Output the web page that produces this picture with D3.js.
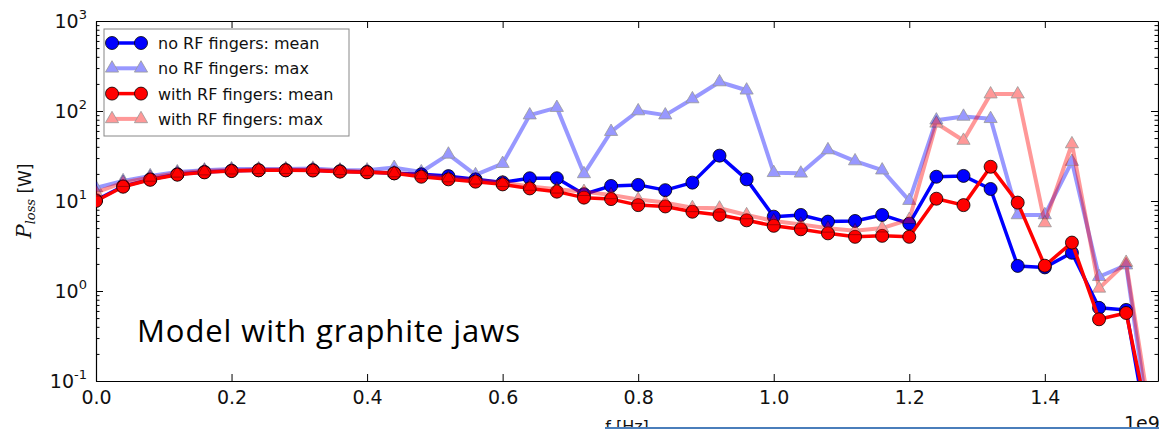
<!DOCTYPE html>
<html>
<head>
<meta charset="utf-8">
<script src="https://cdnjs.cloudflare.com/ajax/libs/d3/7.8.5/d3.min.js"></script>
<style>
  body { margin: 0; background: #fff; }
  svg { display: block; }
  .tick text { font-family: "DejaVu Sans", sans-serif; }
</style>
</head>
<body>
<div id="chart"></div>
<script>
// frequency steps (in units of 1e9 Hz)
const freqs = d3.range(0, 40).map(i => i * 0.04);

const noRfMean = [10.2, 14.6, 17.4, 19.8, 21, 21.7, 22, 22, 22, 21.4,
  21, 20.3, 19.8, 18.9, 17.4, 16.1, 17.9, 17.9, 11.9, 14.7,
  15.1, 13.2, 16.0, 31.9, 17.4, 6.7, 7.0, 5.9, 6.0, 7.0,
  5.6, 18.6, 19.0, 13.6, 1.9, 1.83, 2.66, 0.65, 0.616, 0.012];

const noRfMax = [14, 16.7, 19, 21, 22, 22.7, 22.7, 22.7, 23, 22,
  22, 23.5, 21, 33, 19.5, 26, 90, 109, 20, 59,
  100, 90, 136, 210, 170, 20.6, 20.3, 36.9, 27.8, 22,
  10.1, 79, 87, 82, 7.0, 7.0, 27.4, 1.44, 1.94, 0.016];

const rfMean = [10, 14.4, 17.2, 19.6, 20.8, 21.5, 21.9, 21.9, 21.8, 21.2,
  20.8, 20.3, 18.6, 17.4, 16.4, 15.3, 13.8, 12.7, 10.9, 10.5,
  9.0, 8.7, 7.6, 7.0, 6.1, 5.3, 4.85, 4.37, 4.0, 4.1,
  4.0, 10.6, 9.0, 24, 9.6, 1.91, 3.45, 0.485, 0.57, 0.02];

const rfMax = [12.5, 16, 18.3, 20.3, 21.5, 22, 22.3, 22.3, 22.3, 21.7,
  21.2, 20.5, 19.5, 18, 17, 16, 14.5, 13.5, 12.7, 11.7,
  10.4, 9.6, 8.4, 8.3, 7.0, 6.0, 5.5, 4.97, 4.66, 5.0,
  6.2, 73, 47, 154, 154, 5.7, 43, 1.07, 2.07, 0.025];

const xTicks = [0.0, 0.2, 0.4, 0.6, 0.8, 1.0, 1.2, 1.4];
const yTicks = [-1, 0, 1, 2, 3];

const series = [
  { name: "no RF fingers: mean", values: noRfMean, color: "#0000ff", marker: "circle", alpha: 1 },
  { name: "no RF fingers: max", values: noRfMax, color: "#0000ff", marker: "triangle", alpha: 0.4 },
  { name: "with RF fingers: mean", values: rfMean, color: "#ff0000", marker: "circle", alpha: 1 },
  { name: "with RF fingers: max", values: rfMax, color: "#ff0000", marker: "triangle", alpha: 0.4 }
];

const width = 1159, height = 429;
const margin = { top: 21, right: 1, bottom: 48, left: 96 };
const plotW = width - margin.left - margin.right;
const plotH = height - margin.top - margin.bottom;

const svg = d3.select("#chart").append("svg")
  .attr("width", width)
  .attr("height", height);

const x = d3.scaleLinear().domain([0, 1.567]).range([0, plotW]);
const y = d3.scaleLog().domain([0.1, 1000]).range([plotH, 0]);

const g = svg.append("g")
  .attr("transform", `translate(${margin.left},${margin.top})`);

g.append("clipPath").attr("id", "clip")
  .append("rect").attr("width", plotW).attr("height", plotH);

// minor ticks for log axis
const minorTicks = [];
for (let e = -1; e < 3; e++) {
  for (let m = 2; m <= 9; m++) minorTicks.push(m * Math.pow(10, e));
}

//Axes
g.append("g")
  .attr("transform", `translate(0,${plotH})`)
  .call(d3.axisBottom(x).tickValues(xTicks).tickSizeInner(-7).tickSizeOuter(0).tickPadding(10)
    .tickFormat(d3.format(".1f")))
  .call(a => a.selectAll("text").attr("font-size", 19).attr("fill", "#111"));

g.append("g")
  .call(d3.axisTop(x).tickValues(xTicks).tickSizeInner(-7).tickSizeOuter(0).tickFormat(""));

g.append("g")
  .call(d3.axisLeft(y).tickValues(yTicks.map(e => Math.pow(10, e))).tickSizeInner(-7).tickSizeOuter(0).tickFormat(""));

g.append("g")
  .call(d3.axisLeft(y).tickValues(minorTicks).tickSizeInner(-3.5).tickSizeOuter(0).tickFormat(""))
  .select(".domain").remove();

g.append("g")
  .attr("transform", `translate(${plotW},0)`)
  .call(d3.axisRight(y).tickValues(yTicks.map(e => Math.pow(10, e))).tickSizeInner(-7).tickSizeOuter(0).tickFormat(""));

g.append("g")
  .attr("transform", `translate(${plotW},0)`)
  .call(d3.axisRight(y).tickValues(minorTicks).tickSizeInner(-3.5).tickSizeOuter(0).tickFormat(""))
  .select(".domain").remove();

g.selectAll(".domain").attr("stroke", "#000").attr("stroke-width", 1.2);
g.selectAll(".tick line").attr("stroke", "#000");

// y tick labels 10^n
yTicks.forEach(e => {
  const t = g.append("text")
    .attr("x", -9)
    .attr("y", y(Math.pow(10, e)) + 7)
    .attr("text-anchor", "end")
    .attr("font-family", "DejaVu Sans, sans-serif")
    .attr("fill", "#111");
  t.append("tspan").attr("font-size", 19).text("10");
  t.append("tspan").attr("font-size", 13).attr("dy", -9).text(String(e));
});

// Lines and markers
const line = d3.line()
  .x((d, i) => x(freqs[i]))
  .y(d => y(d));

const tri = d3.symbol().type(d3.symbolTriangle).size(75);

const plot = g.append("g").attr("clip-path", "url(#clip)");

series.forEach(s => {
  const sg = plot.append("g").attr("opacity", s.alpha);
  sg.append("path")
    .datum(s.values)
    .attr("d", line)
    .attr("fill", "none")
    .attr("stroke", s.color)
    .attr("stroke-width", s.marker === "circle" ? 3.5 : 4)
    .attr("stroke-linejoin", "round");
  if (s.marker === "circle") {
    sg.selectAll("circle")
      .data(s.values)
      .enter().append("circle")
      .attr("cx", (d, i) => x(freqs[i]))
      .attr("cy", d => y(d))
      .attr("r", 6.5)
      .attr("fill", s.color)
      .attr("stroke", "#000")
      .attr("stroke-width", 0.8);
  } else {
    sg.selectAll("path.tri")
      .data(s.values)
      .enter().append("path")
      .attr("class", "tri")
      .attr("d", tri)
      .attr("transform", (d, i) => `translate(${x(freqs[i])},${y(d)})`)
      .attr("fill", s.color)
      .attr("stroke", "#000")
      .attr("stroke-width", 0.8);
  }
});

//Legend
const legend = svg.append("g").attr("transform", "translate(104,29)");
legend.append("rect")
  .attr("width", 245).attr("height", 107)
  .attr("fill", "#fff")
  .attr("stroke", "#888")
  .attr("stroke-width", 1);

series.forEach((s, i) => {
  const ly = 14 + i * 25.3;
  const lg = legend.append("g").attr("transform", `translate(0,${ly})`);
  const hg = lg.append("g").attr("opacity", s.alpha);
  hg.append("line")
    .attr("x1", 8).attr("x2", 37)
    .attr("stroke", s.color)
    .attr("stroke-width", s.marker === "circle" ? 3.5 : 4);
  [8, 37].forEach(px => {
    if (s.marker === "circle") {
      hg.append("circle").attr("cx", px).attr("r", 6.5)
        .attr("fill", s.color).attr("stroke", "#000").attr("stroke-width", 0.8);
    } else {
      hg.append("path").attr("d", tri).attr("transform", `translate(${px},0)`)
        .attr("fill", s.color).attr("stroke", "#000").attr("stroke-width", 0.8);
    }
  });
  lg.append("text")
    .attr("x", 54).attr("y", 6)
    .attr("font-family", "DejaVu Sans, sans-serif")
    .attr("font-size", 16)
    .attr("fill", "#111")
    .text(s.name);
});

// y label
const yl = svg.append("text")
  .attr("transform", "translate(31,201) rotate(-90)")
  .attr("text-anchor", "middle")
  .attr("fill", "#111");
yl.append("tspan").attr("font-family", "DejaVu Serif, serif").attr("font-style", "italic").attr("font-size", 21).text("P");
yl.append("tspan").attr("font-family", "DejaVu Serif, serif").attr("font-style", "italic").attr("font-size", 13).attr("dy", 4).text("loss");
yl.append("tspan").attr("font-family", "DejaVu Sans, sans-serif").attr("font-size", 17).attr("dy", -4).text(" [W]");

// x label (cut by slide edge as in the source)
svg.append("text")
  .attr("x", margin.left + plotW / 2)
  .attr("y", 432)
  .attr("text-anchor", "middle")
  .attr("font-family", "DejaVu Sans, sans-serif")
  .attr("font-size", 16)
  .attr("fill", "#111")
  .text("f [Hz]");

// offset text
svg.append("text")
  .attr("x", 1124)
  .attr("y", 430)
  .attr("font-family", "DejaVu Sans, sans-serif")
  .attr("font-size", 19)
  .attr("fill", "#111")
  .text("1e9");

// annotation
svg.append("text")
  .attr("x", 137)
  .attr("y", 342)
  .attr("font-family", "Open Sans, sans-serif")
  .attr("font-size", 31)
  .attr("textLength", 383)
  .attr("fill", "#000")
  .text("Model with graphite jaws");

// slide line at bottom
svg.append("line")
  .attr("x1", 605).attr("x2", 1159)
  .attr("y1", 428).attr("y2", 428)
  .attr("stroke", "#4a7ebb")
  .attr("stroke-width", 2);
</script>
</body>
</html>
